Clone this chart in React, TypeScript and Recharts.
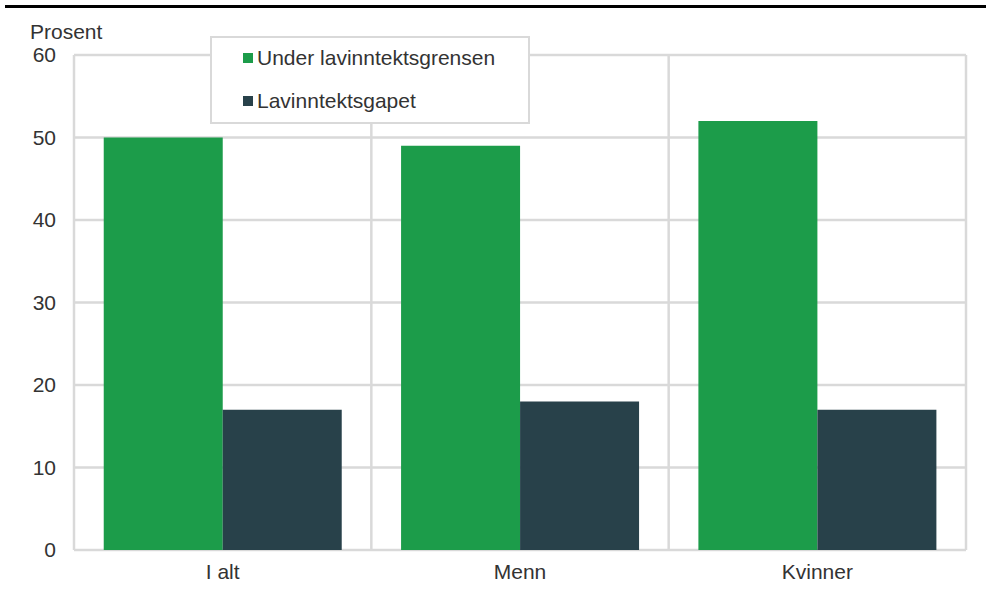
import React from "react"
import {
  BarChart,
  Bar,
  XAxis,
  YAxis,
  CartesianGrid,
  Legend,
} from "recharts"

const categories = ["I alt", "Menn", "Kvinner"]
const underGrensen = [50, 49, 52]
const inntektsgapet = [17, 18, 17]
const yTicks = [0, 10, 20, 30, 40, 50, 60]
const seriesNames = ["Under lavinntektsgrensen", "Lavinntektsgapet"]

const COLORS = ["#1c9c4a", "#28414a"]
const FONT = "'Liberation Sans', Arial, sans-serif"
const TEXT = "#333"

const data = categories.map((name, i) => ({
  name,
  under: underGrensen[i],
  gap: inntektsgapet[i],
}))

// vertical grid lines sit on the category boundaries, not the centers
const boundaryLines = ({ offset }: any) =>
  Array.from({ length: categories.length + 1 }, (_, i) =>
    offset.left + (i * offset.width) / categories.length
  )

function LegendBox() {
  return (
    <div
      style={{
        position: "absolute",
        left: 210,
        top: 36,
        width: 316,
        height: 84,
        background: "#fff",
        border: "2px solid #d9d9d9",
        fontFamily: FONT,
        fontSize: 21,
        color: TEXT,
      }}
    >
      {seriesNames.map((s, i) => (
        <div
          key={s}
          style={{
            position: "absolute",
            left: 31,
            top: 8 + i * 43,
            display: "flex",
            alignItems: "center",
            whiteSpace: "nowrap",
            lineHeight: "24px",
          }}
        >
          <span
            style={{
              display: "inline-block",
              width: 10,
              height: 10,
              background: COLORS[i],
              marginRight: 4,
            }}
          />
          {s}
        </div>
      ))}
    </div>
  )
}

export default function App() {
  return (
    <div
      style={{
        position: "absolute",
        left: 0,
        top: 0,
        width: 986,
        height: 589,
        background: "#fff",
        fontFamily: FONT,
      }}
    >
      <div
        style={{
          position: "absolute",
          left: 5,
          top: 5,
          width: 981,
          height: 3,
          background: "#000",
        }}
      />
      <div
        style={{
          position: "absolute",
          left: 30,
          top: 20,
          fontSize: 21,
          lineHeight: "24px",
          color: TEXT,
        }}
      >
        Prosent
      </div>
      <BarChart
        width={986}
        height={589}
        data={data}
        margin={{ top: 55, right: 20, bottom: 0, left: 0 }}
        barCategoryGap="10%"
        barGap={0}
      >
        <CartesianGrid
          stroke="#d9d9d9"
          strokeWidth={2.5}
          verticalCoordinatesGenerator={boundaryLines}
        />
        <XAxis
          dataKey="name"
          axisLine={false}
          tickLine={false}
          height={39}
          tickMargin={8}
          tick={{ fill: TEXT, fontSize: 21, fontFamily: FONT }}
        />
        <YAxis
          width={74}
          domain={[0, 60]}
          ticks={yTicks}
          axisLine={false}
          tickLine={false}
          tickMargin={12}
          tick={{ fill: TEXT, fontSize: 21, fontFamily: FONT }}
        />
        <Legend content={() => <LegendBox />} wrapperStyle={{ left: 0, top: 0 }} />
        <Bar
          dataKey="under"
          name={seriesNames[0]}
          fill={COLORS[0]}
          isAnimationActive={false}
        />
        <Bar
          dataKey="gap"
          name={seriesNames[1]}
          fill={COLORS[1]}
          isAnimationActive={false}
        />
      </BarChart>
    </div>
  )
}
